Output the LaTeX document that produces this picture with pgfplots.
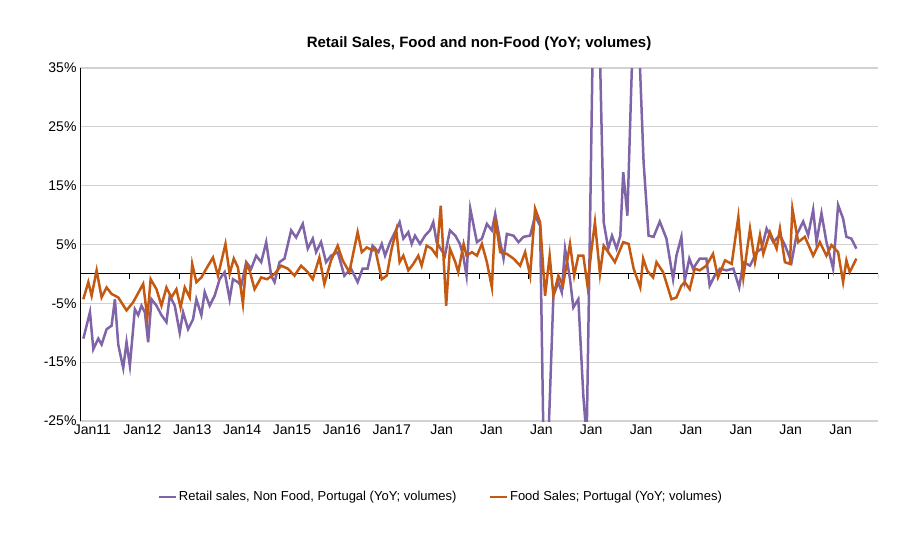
\documentclass[border=0pt]{standalone}
\usepackage{pgfplots}
\pgfplotsset{compat=1.18}
\usepackage{fontspec}
\setmainfont{Liberation Sans}
\definecolor{pur}{RGB}{128,100,168}
\definecolor{ora}{RGB}{196,89,17}
\begin{document}
\begin{tikzpicture}
\useasboundingbox (-80bp,-123bp) rectangle (833bp,421bp);
\begin{axis}[at={(0,0)},anchor=south west,scale only axis,
 width=798bp,height=353bp,
 xmin=0,xmax=192,ymin=-25,ymax=35,
 axis lines*=left,
 x axis line style={draw=none},
 y axis line style={line width=0.8bp,-},
 ytick={-25,-15,...,35}, yticklabel={\pgfmathprintnumber{\tick}\%},
 ymajorgrids, grid style={gray!35,line width=1.3bp},
 major tick style={draw=none},
 xtick={3,15,...,183},
 xticklabels={Jan11,Jan12,Jan13,Jan14,Jan15,Jan16,Jan17,Jan,Jan,Jan,Jan,Jan,Jan,Jan,Jan,Jan},
 tick label style={font=\fontsize{14bp}{16bp}\selectfont},
 /pgf/number format/assume math mode=true,
 legend style={draw=none,at={(0.452,-0.215)},anchor=center,font=\fontsize{13bp}{15bp}\selectfont,
   /tikz/every even column/.append style={column sep=30bp}},
 legend columns=2,
 title={Retail Sales, Food and non-Food (YoY; volumes)},
 title style={font=\fontsize{15bp}{17bp}\selectfont\bfseries,yshift=8bp},
]
\draw[black,line width=0.9bp] (axis cs:0,0)--(axis cs:192,0);
\pgfplotsinvokeforeach{0,12,...,192}{\draw[black,line width=0.9bp] (axis cs:#1,0)--(axis cs:#1,-0.9);}
\addplot[pur,line width=2.5bp] coordinates {
(0.8,-11)(2.4,-6.5)(3.2,-12.8)(4.4,-11)(5.2,-12)(6.4,-9.4)(7.6,-8.8)(8.4,-4.3)(9.2,-12)(10.4,-16)(11.2,-11.6)(12,-15.6)(13.2,-6)(14,-7)(14.8,-5.4)(15.6,-6.5)(16.4,-11.6)(17.2,-4.3)(18.4,-5.4)(19.6,-7)(20.8,-8.2)(21.6,-3.7)(22.8,-5.4)(24,-10)(24.8,-6.5)(26,-9.4)(27.2,-7.7)(28,-4.3)(29.2,-7)(30,-3.1)(31.2,-5.4)(32.4,-3.7)(33.6,-0.9)(34.8,0.3)(36,-4.3)(36.8,-0.9)(38,-1.4)(38.8,-2)(40,2)(41.2,0.9)(42.4,3.1)(43.6,2)(44.8,5.4)(46,-0.3)(46.8,-1.4)(48,2)(49.2,2.6)(50.8,7.4)(52,6.2)(53.6,8.5)(54.8,4.3)(56,6)(56.8,3.7)(58,5.4)(59.2,2)(60.4,3.1)(62,3.7)(63.6,-0.3)(65.2,0.9)(66.8,-1.4)(68,0.9)(69.2,0.9)
(70.4,4.8)(71.8,3.7)(72.6,5.1)(73.4,3.1)(74.6,5.4)(75.8,7.1)(76.9,8.8)(77.8,6)(79,7.1)(79.8,5.1)(80.6,6.5)(81.8,5.1)(83,6.5)(84.2,7.4)(85,8.8)(85.8,5.4)(87,4)(87.8,3.1)(89,7.4)(90.3,6.5)(91.4,5.1)(92.2,3.1)(93,-0.3)(93.9,11.1)(95.5,5.4)(96.7,6)(97.9,8.5)(99.1,7.4)(99.9,10.2)(101.1,5.4)(101.9,2.6)(102.7,6.8)(104.3,6.5)(105.5,5.4)(106.7,6.3)(108.3,6.5)(109.5,9.9)(110.7,8.2)(111.5,-28)(112.7,-28)(113.9,-3.7)(115.1,-1.4)(115.9,-3.1)(116.7,4.3)(117.9,-0.9)(118.7,-5.7)(119.9,-4.3)(121.1,-20.7)(121.9,-28)(122.7,7.7)(123.6,50)(124.7,50)(126,8.8)(127.1,4.3)(128,6.5)(129.1,4.3)(130,6.5)(130.7,17.3)(131.7,9.9)(133.2,45)(134.2,45)(135.6,19)(136.8,6.5)(138,6.3)(139.5,8.9)(141.1,6)(142.7,-0.9)(143.5,3.1)(144.7,6.3)(145.5,-1.1)(146.6,2.6)(147.5,0.9)(149.1,2.6)(150.7,2.6)(151.5,-2)(152.7,-0.3)(154,0.9)(155.5,0.6)(157.2,0.9)(158.6,-2.3)(159.6,2)(161.2,1.4)(162.8,3.7)(164,4.3)(165.2,7.7)(166.8,5.4)(168.4,6.6)(169.6,4.9)(171.2,2)(172.4,6.6)(174,8.9)(175.2,6.6)(176.4,10.9)(177.2,5.4)(178.4,10.3)(179.6,5.4)(181.2,0.9)(182.4,11.7)(183.6,9.4)(184.4,6.3)(185.6,6)(186.8,4.3)
};
\addlegendentry{Retail sales, Non Food, Portugal (YoY; volumes)}
\addplot[ora,line width=2.5bp] coordinates {
(0.8,-4.3)(2,-1.4)(2.8,-3.7)(4,0.6)(5.2,-4)(6.4,-2.3)(7.6,-3.4)(9.2,-4)(11.2,-6.2)(12.8,-4.8)(15.2,-1.7)(16.2,-7.4)(17,-0.9)(18.4,-2.6)(19.6,-5.4)(20.8,-2.3)(22,-4)(23.2,-2.6)(24.2,-5.7)(25.2,-2.3)(26.4,-4)(27,1.7)(28,-1.4)(29.2,-0.6)(30.4,0.9)(32,2.8)(33.2,-0.3)(35,5.1)(36,0)(37,2.6)(38,1.1)(39.2,-5.1)(40,1.7)(40.8,0.6)(42,-2.6)(43.6,-0.6)(45,-0.9)(46.8,0)(48.4,1.4)(50,0.9)(51.6,-0.3)(53.2,1.4)(54.8,0.3)(56,-0.9)(57.6,2.8)(58.8,-1.7)(60.4,2.3)(62,4.8)(63.2,2.3)(64.8,0.3)(66.8,7.1)(67.8,3.7)(69,4.5)
(70.4,4)(71,4.3)(72.6,-0.9)(73.8,-0.3)(75,4.3)(76.1,7.4)(76.9,2)(77.8,3.1)(79,0.6)(80.2,1.7)(81.4,3.1)(82.2,1.4)(83.4,4.8)(84.6,4.3)(85.8,3.1)(86.8,11.6)(88.1,-5.4)(89,4.3)(90.3,2)(91,0.3)(92.3,5.1)(93,3.1)(94.3,3.7)(95.5,3.1)(96.7,5.1)(97.9,2)(99.1,-2.3)(99.9,9.4)(101.1,3.7)(102.7,3.4)(104.3,2.6)(105.9,1.4)(107.1,3.7)(108.3,-0.3)(109.5,11.1)(110.7,8.8)(111.9,-3.7)(113,3.1)(113.9,-3.7)(115.1,-0.3)(116.2,-2)(117.9,5.1)(118.9,-0.3)(119.9,3.1)(121.1,3.1)(122.1,-2)(123.1,4.3)(123.9,8.8)(125.1,0)(126,4.8)(127.1,3.7)(128.7,2)(130.7,5.4)(132,5.1)(133.2,0.9)(134.8,-2.3)(135.5,2.6)(136.5,0.5)(137.9,-0.6)(138.7,2)(140.3,0.3)(142.3,-4.3)(143.5,-4)(144.7,-2)(145.5,-1.4)(146.7,-2.6)(147.9,0.9)(149.1,0.6)(150.7,1.4)(152.3,3.4)(153.5,-0.6)(155.2,2.3)(156.8,1.7)(158.4,9.7)(159.6,-0.6)(161.2,7.7)(162.4,2)(163.6,6.6)(164.4,3.4)(166,7.1)(167.6,4.3)(168.4,7.7)(169.6,2)(170.8,1.7)(171.4,11.1)(172.8,5.4)(174.4,6.3)(176.4,3.1)(178,5.4)(179.6,3.1)(180.8,4.9)(182.4,3.7)(183.6,-1.4)(184.4,2.3)(185.2,0.3)(186.8,2.6)
};
\addlegendentry{Food Sales; Portugal (YoY; volumes)}
\end{axis}
\end{tikzpicture}
\end{document}
